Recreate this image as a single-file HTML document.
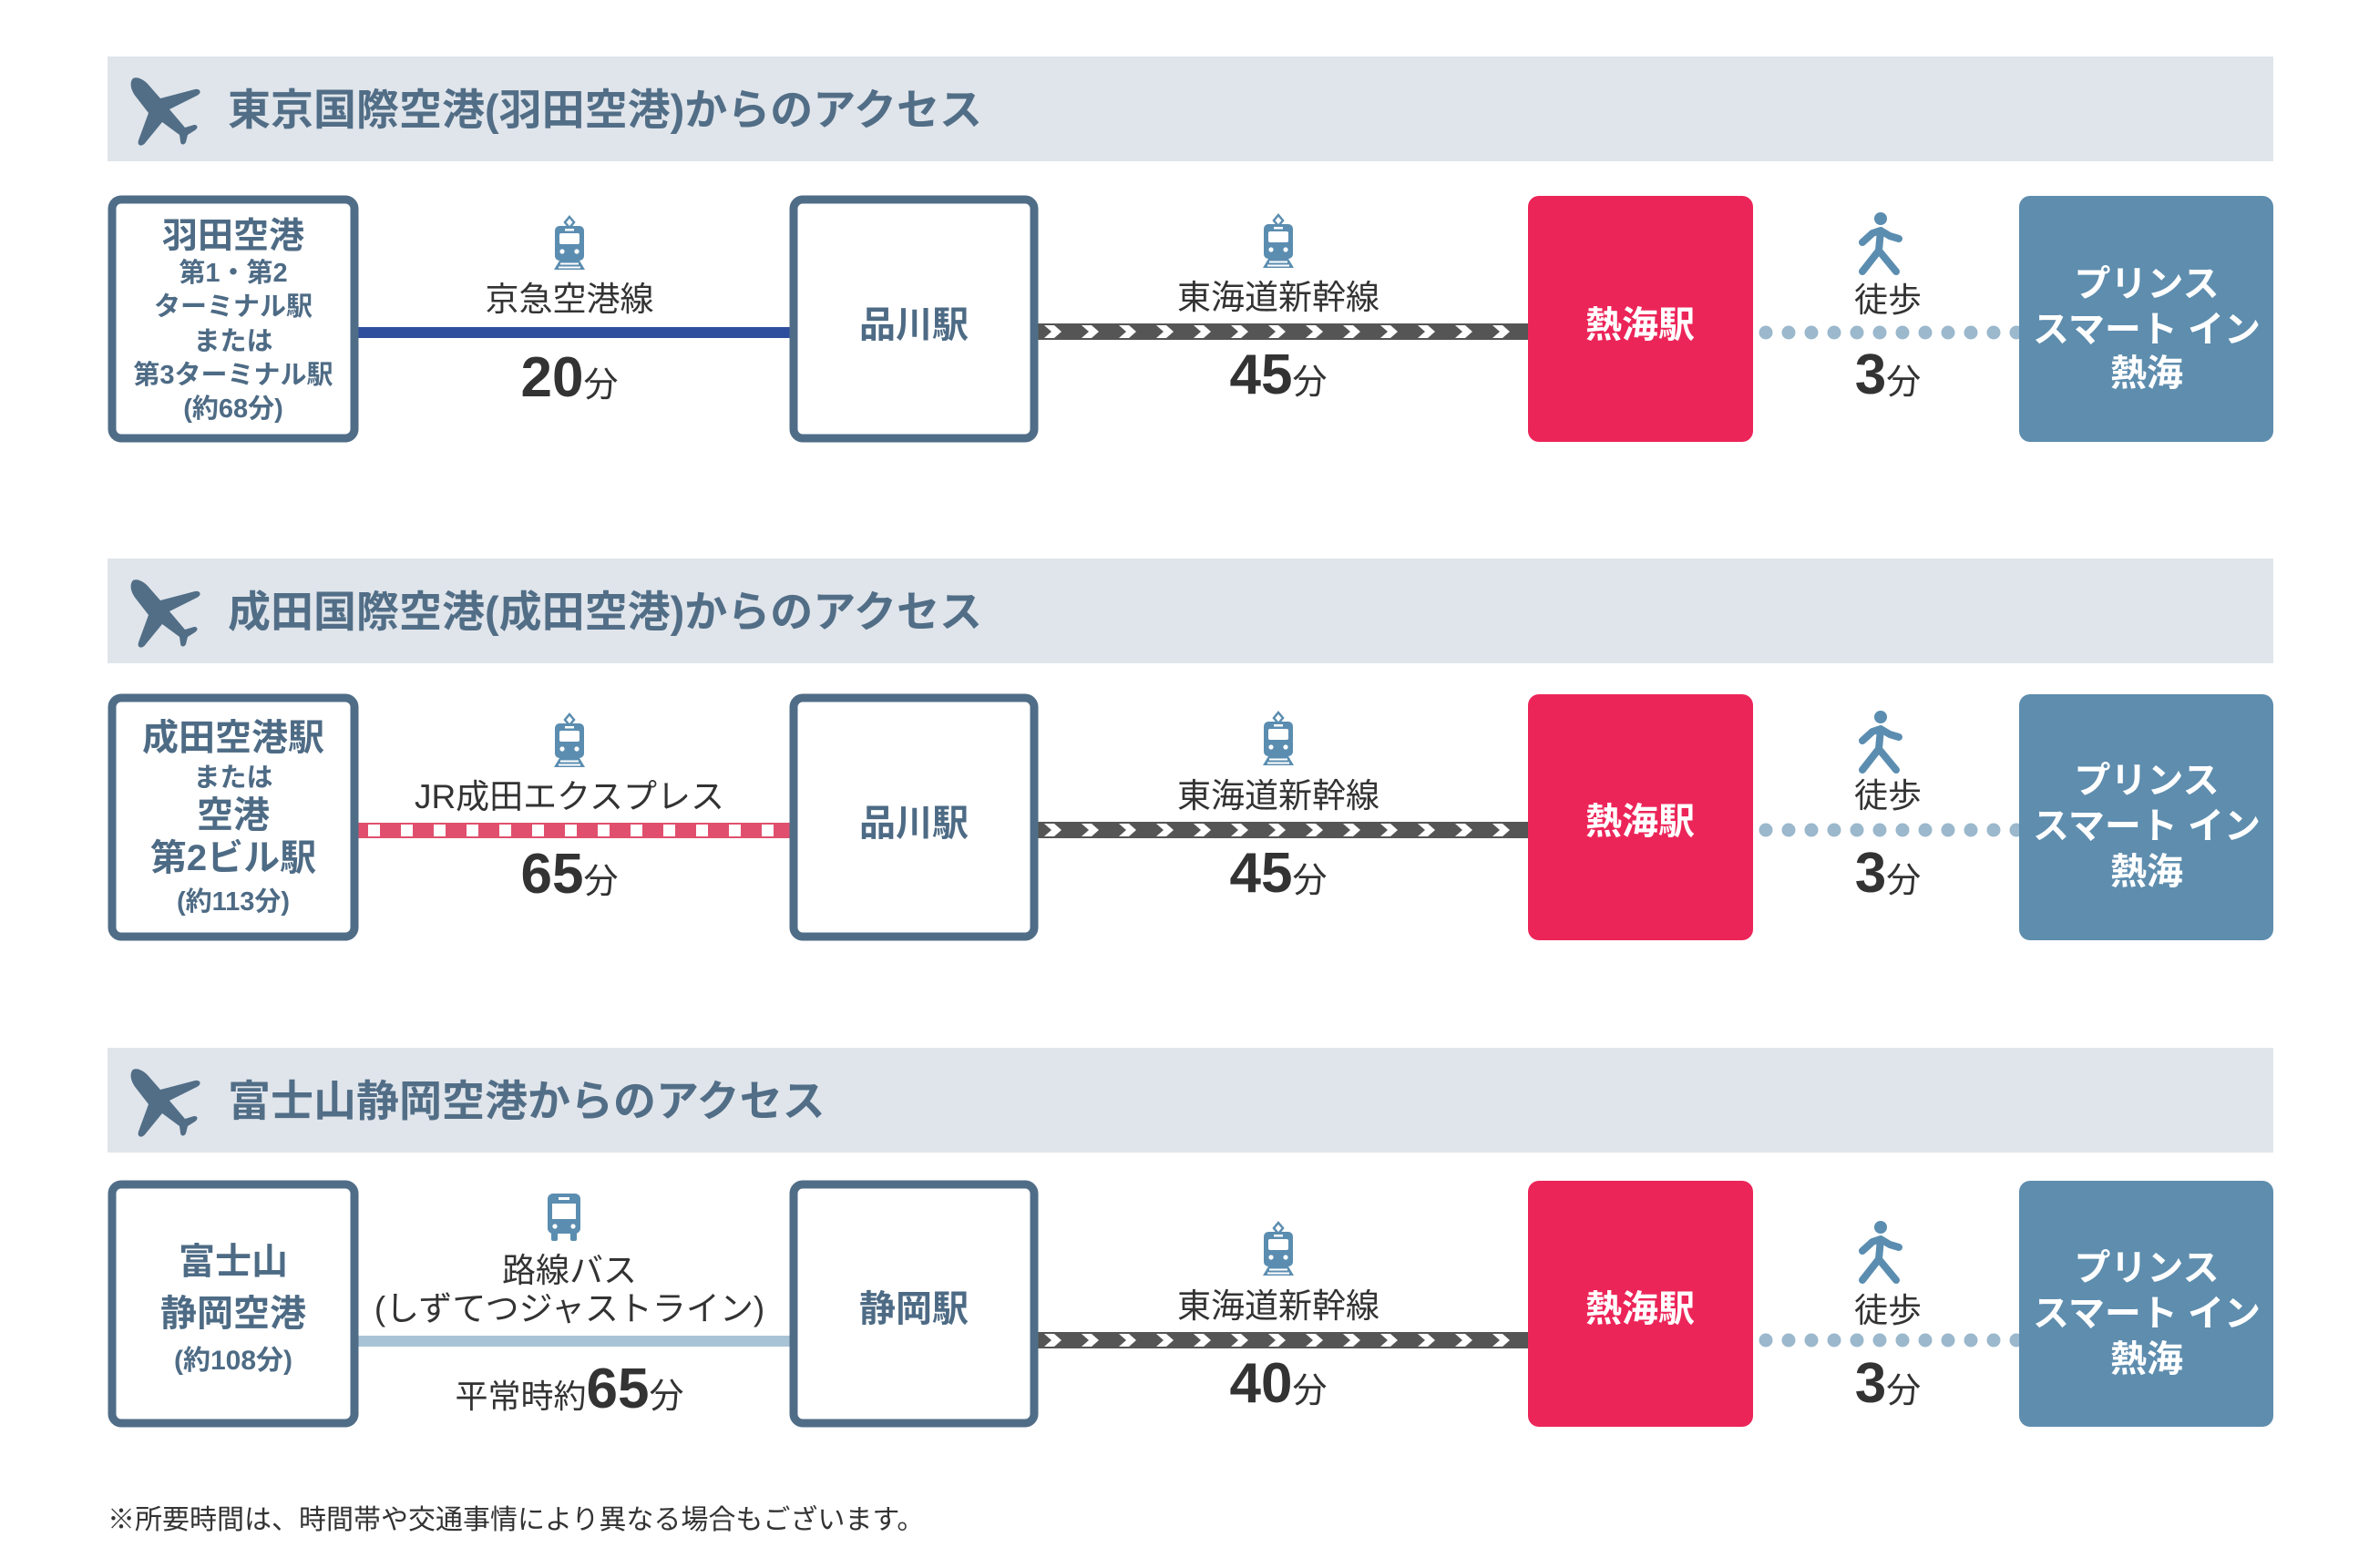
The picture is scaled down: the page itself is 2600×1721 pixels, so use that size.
<!DOCTYPE html>
<html><head><meta charset="utf-8"><style>
html,body{margin:0;padding:0;background:#fff;}
svg{display:block;font-family:"Liberation Sans","Noto Sans CJK JP",sans-serif;}
</style></head><body>
<svg width="2600" height="1721" viewBox="0 0 2600 1721" xmlns="http://www.w3.org/2000/svg">
<defs>
<g id="train">
<path d="M0,-2 L5,4 L0,10 L-5,4 Z" fill="none" stroke="#5b8db0" stroke-width="2.5"/>
<rect x="-16" y="8" width="32" height="38" rx="5" fill="#5b8db0"/>
<rect x="-5" y="11" width="10" height="2.5" fill="#fff"/>
<rect x="-11" y="16" width="22" height="12" rx="2" fill="#fff"/>
<circle cx="-8" cy="36" r="2.6" fill="#fff"/>
<circle cx="8" cy="36" r="2.6" fill="#fff"/>
<path d="M-11,46 L11,46 L17,56 L-17,56 Z" fill="#5b8db0"/>
<rect x="-10" y="48.5" width="20" height="2" fill="#fff"/>
<rect x="-12" y="52.5" width="24" height="2" fill="#fff"/>
</g>
<g id="bus">
<rect x="-18" y="0" width="36" height="44" rx="6" fill="#5b8db0"/>
<rect x="-6" y="4" width="12" height="3" fill="#fff"/>
<rect x="-13" y="11" width="26" height="17" fill="#fff"/>
<circle cx="-10" cy="36" r="2.6" fill="#fff"/>
<circle cx="10" cy="36" r="2.6" fill="#fff"/>
<rect x="-14" y="42" width="7" height="10" rx="2" fill="#5b8db0"/>
<rect x="7" y="42" width="7" height="10" rx="2" fill="#5b8db0"/>
</g>
<g id="walk" stroke="#5b8db0" stroke-width="8" stroke-linecap="round" stroke-linejoin="round" fill="none">
<circle cx="0" cy="0" r="7" fill="#5b8db0" stroke="none"/>
<path d="M0,13 L-2,35 M-20,26 L-9,16 L0,13 L10,19 L20,22 M-2,35 L-20,58 M-2,35 L17,58"/>
</g>
<g id="plane">
<path d="M146,86 C150,84 156,86 162,92 L176,108 L214,98 C220,97 222,102 216,105 L186,120 L203,140 L213,137 C217,137 218,140 214,143 L206,148 L204,156 C202,160 198,159 198,155 L197,148 L178,134 L160,156 C156,162 150,160 152,154 L163,124 L149,106 C143,98 142,90 146,86 Z" fill="#526e87"/>
</g>
<g id="chevrow" fill="#fff">
<path d="M1146,357 h11 l8,7 l-8,7 h-11 l8,-7 z M1187,357 h11 l8,7 l-8,7 h-11 l8,-7 z M1228,357 h11 l8,7 l-8,7 h-11 l8,-7 z M1269,357 h11 l8,7 l-8,7 h-11 l8,-7 z M1310,357 h11 l8,7 l-8,7 h-11 l8,-7 z M1351,357 h11 l8,7 l-8,7 h-11 l8,-7 z M1392,357 h11 l8,7 l-8,7 h-11 l8,-7 z M1433,357 h11 l8,7 l-8,7 h-11 l8,-7 z M1474,357 h11 l8,7 l-8,7 h-11 l8,-7 z M1515,357 h11 l8,7 l-8,7 h-11 l8,-7 z M1556,357 h11 l8,7 l-8,7 h-11 l8,-7 z M1597,357 h11 l8,7 l-8,7 h-11 l8,-7 z M1638,357 h11 l8,7 l-8,7 h-11 l8,-7 z"/>
</g>
<g id="dots" fill="#9bb8cc">
<circle cx="1938" cy="365" r="7.5"/><circle cx="1963" cy="365" r="7.5"/><circle cx="1988" cy="365" r="7.5"/><circle cx="2013" cy="365" r="7.5"/><circle cx="2038" cy="365" r="7.5"/><circle cx="2063" cy="365" r="7.5"/><circle cx="2088" cy="365" r="7.5"/><circle cx="2113" cy="365" r="7.5"/><circle cx="2138" cy="365" r="7.5"/><circle cx="2163" cy="365" r="7.5"/><circle cx="2188" cy="365" r="7.5"/><circle cx="2213" cy="365" r="7.5"/>
</g>
</defs>

<rect x="118" y="62" width="2377" height="115" fill="#e0e5eb"/>
<rect x="118" y="613" width="2377" height="115" fill="#e0e5eb"/>
<rect x="118" y="1150" width="2377" height="115" fill="#e0e5eb"/>
<use href="#plane"/>
<use href="#plane" transform="translate(0,551)"/>
<use href="#plane" transform="translate(0,1088)"/>
<g fill="#526e87" font-size="47" font-weight="bold">
<text x="250" y="137">東京国際空港(羽田空港)からのアクセス</text>
<text x="250" y="688">成田国際空港(成田空港)からのアクセス</text>
<text x="250" y="1225">富士山静岡空港からのアクセス</text>
</g>

<rect x="393" y="359" width="476" height="12" fill="#2e4e9e"/>
<rect x="1138" y="355" width="541" height="18" fill="#555"/>
<rect x="393" y="903" width="476" height="17" fill="#e0506e"/>
<rect x="1138" y="902" width="541" height="18" fill="#555"/>
<rect x="393" y="1466" width="476" height="12" fill="#a9c3d6"/>
<rect x="1138" y="1462" width="541" height="18" fill="#555"/>

<use href="#chevrow"/>
<use href="#chevrow" transform="translate(0,547)"/>
<use href="#chevrow" transform="translate(0,1107)"/>

<g fill="#fff">
<rect x="404" y="905" width="13" height="13"/><rect x="440" y="905" width="13" height="13"/><rect x="476" y="905" width="13" height="13"/><rect x="512" y="905" width="13" height="13"/><rect x="548" y="905" width="13" height="13"/><rect x="584" y="905" width="13" height="13"/><rect x="620" y="905" width="13" height="13"/><rect x="656" y="905" width="13" height="13"/><rect x="692" y="905" width="13" height="13"/><rect x="728" y="905" width="13" height="13"/><rect x="764" y="905" width="13" height="13"/><rect x="800" y="905" width="13" height="13"/><rect x="836" y="905" width="13" height="13"/>
</g>

<use href="#dots"/>
<use href="#dots" transform="translate(0,546)"/>
<use href="#dots" transform="translate(0,1106)"/>

<g fill="#fff" stroke="#506d87" stroke-width="9">
<rect x="123" y="219" width="266" height="262" rx="10"/>
<rect x="871" y="219" width="264" height="262" rx="10"/>
<rect x="123" y="766" width="266" height="262" rx="10"/>
<rect x="871" y="766" width="264" height="262" rx="10"/>
<rect x="123" y="1300" width="266" height="262" rx="10"/>
<rect x="871" y="1300" width="264" height="262" rx="10"/>
</g>
<g fill="#ec2559">
<rect x="1677" y="215" width="247" height="270" rx="12"/>
<rect x="1677" y="762" width="247" height="270" rx="12"/>
<rect x="1677" y="1296" width="247" height="270" rx="12"/>
</g>
<g fill="#5e8dae">
<rect x="2216" y="215" width="279" height="270" rx="12"/>
<rect x="2216" y="762" width="279" height="270" rx="12"/>
<rect x="2216" y="1296" width="279" height="270" rx="12"/>
</g>

<use href="#train" transform="translate(625,240)"/>
<use href="#train" transform="translate(1403,238)"/>
<use href="#walk" transform="translate(2064,240)"/>
<use href="#train" transform="translate(625,786)"/>
<use href="#train" transform="translate(1403,784)"/>
<use href="#walk" transform="translate(2064,787)"/>
<use href="#bus" transform="translate(619,1310)"/>
<use href="#train" transform="translate(1403,1344)"/>
<use href="#walk" transform="translate(2064,1347)"/>

<g fill="#4e6b85" font-weight="bold" text-anchor="middle">
<text x="256" y="272" font-size="39">羽田空港</text>
<g font-size="29">
<text x="256" y="309">第1・第2</text>
<text x="256" y="346">ターミナル駅</text>
<text x="256" y="384">または</text>
<text x="256" y="421">第3ターミナル駅</text>
<text x="256" y="458">(約68分)</text>
</g>
<text x="1003" y="370" font-size="40">品川駅</text>
<text x="256" y="823" font-size="40">成田空港駅</text>
<text x="256" y="863" font-size="29">または</text>
<text x="256" y="908" font-size="40">空港</text>
<text x="256" y="955" font-size="40">第2ビル駅</text>
<text x="256" y="999" font-size="29">(約113分)</text>
<text x="1003" y="917" font-size="40">品川駅</text>
<text x="256" y="1398" font-size="40">富士山</text>
<text x="256" y="1455" font-size="40">静岡空港</text>
<text x="256" y="1503" font-size="30">(約108分)</text>
<text x="1003" y="1450" font-size="40">静岡駅</text>
</g>

<g fill="#fff" font-weight="bold" text-anchor="middle" font-size="40">
<text x="1800" y="370">熱海駅</text>
<text x="2356" y="325">プリンス</text>
<text x="2356" y="375">スマート イン</text>
<text x="2356" y="423">熱海</text>
<text x="1800" y="915">熱海駅</text>
<text x="2356" y="870">プリンス</text>
<text x="2356" y="920">スマート イン</text>
<text x="2356" y="970">熱海</text>
<text x="1800" y="1450">熱海駅</text>
<text x="2356" y="1405">プリンス</text>
<text x="2356" y="1455">スマート イン</text>
<text x="2356" y="1505">熱海</text>
</g>

<g fill="#333" text-anchor="middle" font-size="37">
<text x="625" y="341">京急空港線</text>
<text x="1403" y="339">東海道新幹線</text>
<text x="2072" y="342">徒歩</text>
<text x="625" y="887">JR成田エクスプレス</text>
<text x="1403" y="886">東海道新幹線</text>
<text x="2072" y="886">徒歩</text>
<text x="625" y="1407">路線バス</text>
<text x="625" y="1449">(しずてつジャストライン)</text>
<text x="1403" y="1446">東海道新幹線</text>
<text x="2072" y="1451">徒歩</text>
</g>
<g fill="#333" text-anchor="middle">
<text x="625" y="435"><tspan font-size="62" font-weight="bold">20</tspan><tspan font-size="38">分</tspan></text>
<text x="1403" y="432"><tspan font-size="62" font-weight="bold">45</tspan><tspan font-size="38">分</tspan></text>
<text x="2072" y="432"><tspan font-size="62" font-weight="bold">3</tspan><tspan font-size="38">分</tspan></text>
<text x="625" y="980"><tspan font-size="62" font-weight="bold">65</tspan><tspan font-size="38">分</tspan></text>
<text x="1403" y="979"><tspan font-size="62" font-weight="bold">45</tspan><tspan font-size="38">分</tspan></text>
<text x="2072" y="979"><tspan font-size="62" font-weight="bold">3</tspan><tspan font-size="38">分</tspan></text>
<text x="625" y="1545"><tspan font-size="36">平常時約</tspan><tspan font-size="62" font-weight="bold">65</tspan><tspan font-size="38">分</tspan></text>
<text x="1403" y="1539"><tspan font-size="62" font-weight="bold">40</tspan><tspan font-size="38">分</tspan></text>
<text x="2072" y="1539"><tspan font-size="62" font-weight="bold">3</tspan><tspan font-size="38">分</tspan></text>
</g>

<text x="118" y="1678" fill="#333" font-size="30">※所要時間は、時間帯や交通事情により異なる場合もございます。</text>
</svg>
</body></html>
